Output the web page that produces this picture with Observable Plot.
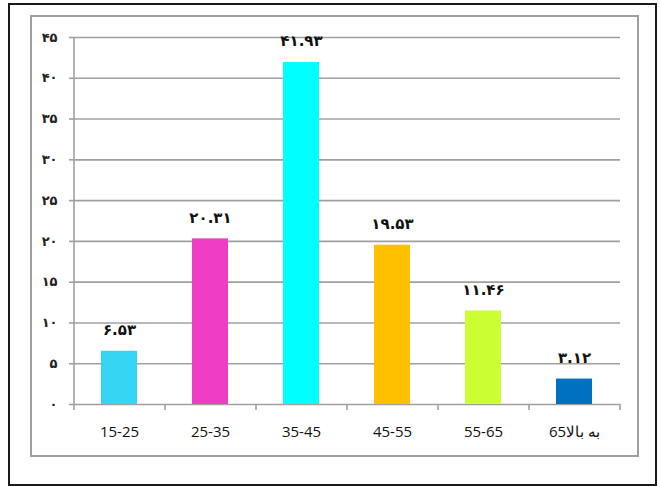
<!DOCTYPE html>
<html>
<head>
<meta charset="utf-8">
<script src="https://cdn.jsdelivr.net/npm/d3@7"></script>
<script src="https://cdn.jsdelivr.net/npm/@observablehq/plot@0.6"></script>
<style>
  html, body { margin: 0; padding: 0; background: #fff; }
  #wrap { position: relative; width: 661px; height: 486px; overflow: hidden; }
  #outer { position: absolute; left: 8px; top: 3px; width: 649px; height: 483px; box-sizing: border-box; border: 2px solid #1a1a1a; }
  #inner { position: absolute; left: 30px; top: 15px; width: 609px; height: 442px; box-sizing: border-box; border: 2px solid #a0a0a0; }
  #chart { position: absolute; left: 0; top: 0; }
</style>
</head>
<body>
<div id="wrap">
  <div id="outer"></div>
  <div id="inner"></div>
  <div id="chart"></div>
</div>
<script>
const categories = ["15-25", "25-35", "35-45", "45-55", "55-65", "به بالا65"];
const values = [6.53, 20.31, 41.93, 19.53, 11.46, 3.12];
const valueLabels = ["۶.۵۳", "۲۰.۳۱", "۴۱.۹۳", "۱۹.۵۳", "۱۱.۴۶", "۳.۱۲"];
const colors = ["#35D4F3", "#EE3EC6", "#00FFFF", "#FFC000", "#CCFF33", "#0070C0"];
const yTicks = [0, 5, 10, 15, 20, 25, 30, 35, 40, 45];
const yTickLabels = ["۰", "۵", "۱۰", "۱۵", "۲۰", "۲۵", "۳۰", "۳۵", "۴۰", "۴۵"];

const table = categories.map((c, i) => ({category: c, value: values[i], label: valueLabels[i]}));

const W = 661, H = 486;
const mL = 74, mR = 41, mT = 37, mB = 82;
const step = (W - mL - mR) / categories.length;
const half = step / 2;
const gray = "#a0a0a0";
const tickDown = 6 * 45 / (H - mT - mB); // 6px below baseline, in data units

const chart = Plot.plot({
  width: W,
  height: H,
  marginLeft: mL,
  marginRight: mR,
  marginTop: mT,
  marginBottom: mB,
  x: {domain: categories, paddingInner: 0.6, paddingOuter: 0.3, label: null},
  y: {domain: [0, 45], label: null},
  color: {domain: categories, range: colors},
  style: {background: "transparent", overflow: "visible"},
  marks: [
    Plot.ruleY(yTicks, {y: d => d, stroke: gray, strokeWidth: 1.6}),
    Plot.ruleX([categories[0]], {x: d => d, dx: -half, y1: -tickDown, y2: 45, stroke: gray, strokeWidth: 1.6}),
    Plot.ruleX(categories.slice(1), {x: d => d, dx: -half, y1: -tickDown, y2: 0, stroke: gray, strokeWidth: 1.6}),
    Plot.ruleX([categories[categories.length - 1]], {x: d => d, dx: half, y1: -tickDown, y2: 0, stroke: gray, strokeWidth: 1.6}),
    Plot.barY(table, {x: "category", y: "value", fill: "category"}),
    Plot.text(table, {x: "category", y: "value", text: "label", dy: -21, fontSize: 15, fontWeight: "bold", fontFamily: "DejaVu Sans", fill: "#111"}),
    Plot.axisY({ticks: yTicks, tickFormat: (d, i) => yTickLabels[yTicks.indexOf(d)], tickSize: 5, tickPadding: 12, stroke: gray, strokeWidth: 1.6, fontSize: 13, fontWeight: "bold", fontFamily: "DejaVu Sans", fill: "#222"}),
    Plot.axisX({tickSize: 0, tickPadding: 22, fontSize: 15, fontFamily: "Open Sans", fill: "#111", tickFormat: d => /[\u0600-\u06FF]/.test(d) ? "\u2067" + d + "\u2069" : d})
  ]
});
document.getElementById("chart").appendChild(chart);
</script>
</body>
</html>
